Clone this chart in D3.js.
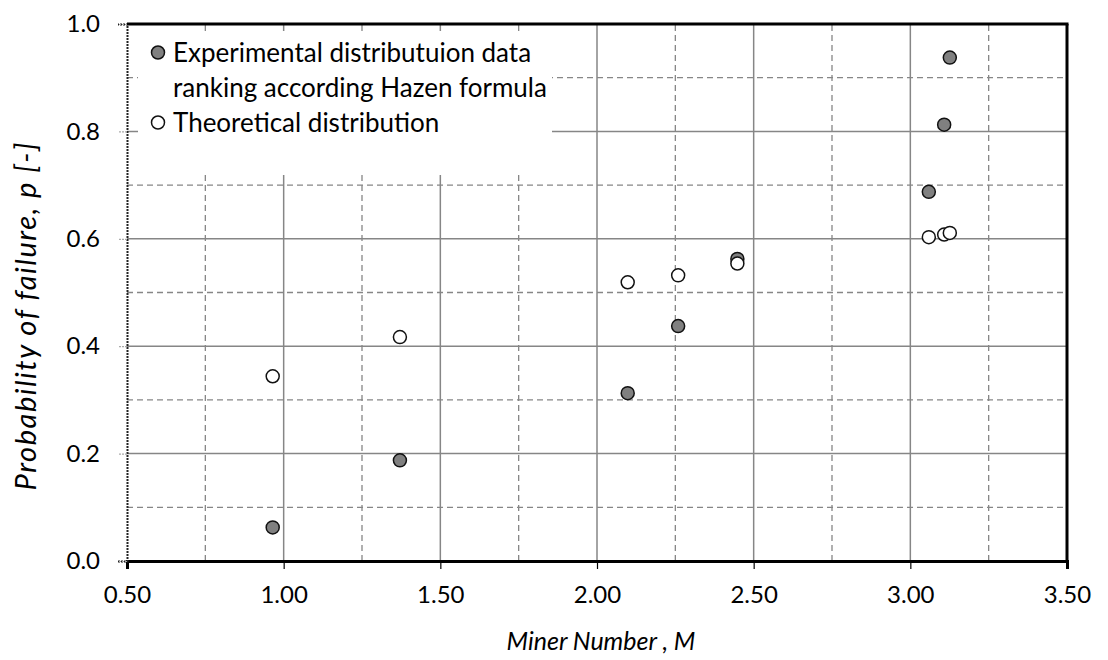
<!DOCTYPE html>
<html>
<head>
<meta charset="utf-8">
<script src="https://cdn.jsdelivr.net/npm/d3@7"></script>
<style>
  html, body { margin: 0; padding: 0; background: #fff; }
  svg text { font-family: Lato, "Open Sans", sans-serif; fill: #000; }
</style>
</head>
<body>
<svg id="chart" width="1108" height="660"></svg>
<script>
// Miner number of each specimen
const minerNumber = [0.965, 1.371, 2.098, 2.259, 2.448, 3.059, 3.108, 3.126];
// Probability of failure, ranked with the Hazen formula (i - 0.5) / n
const hazenProbability = [0.0625, 0.1875, 0.3125, 0.4375, 0.5625, 0.6875, 0.8125, 0.9375];
// Probability of failure from the fitted theoretical distribution
const theoreticalProbability = [0.344, 0.417, 0.519, 0.532, 0.554, 0.603, 0.608, 0.611];

const xTicks = [0.5, 1.0, 1.5, 2.0, 2.5, 3.0, 3.5];
const xMinorTicks = [0.75, 1.25, 1.75, 2.25, 2.75, 3.25];
const yTicks = [0.0, 0.2, 0.4, 0.6, 0.8, 1.0];
const yMinorTicks = [0.1, 0.3, 0.5, 0.7, 0.9];

const legendLabels = [
  ["Experimental distributuion data", "ranking according Hazen formula"],
  ["Theoretical distribution"]
];

const margin = { left: 127, right: 41, top: 24, bottom: 99 };
const W = 1108, H = 660;
const svg = d3.select("#chart");

const x = d3.scaleLinear().domain([0.5, 3.5]).range([margin.left, W - margin.right]);
const y = d3.scaleLinear().domain([0, 1]).range([H - margin.bottom, margin.top]);

const gridColor = "#868686";

// minor (dashed) grid
const grid = svg.append("g");
grid.selectAll("line.vminor").data(xMinorTicks).join("line")
  .attr("x1", d => x(d)).attr("x2", d => x(d))
  .attr("y1", y(0)).attr("y2", y(1))
  .attr("stroke", gridColor).attr("stroke-width", 1.3).attr("stroke-dasharray", "6,4");
grid.selectAll("line.hminor").data(yMinorTicks).join("line")
  .attr("x1", x(0.5)).attr("x2", x(3.5))
  .attr("y1", d => y(d)).attr("y2", d => y(d))
  .attr("stroke", gridColor).attr("stroke-width", 1.3).attr("stroke-dasharray", "6,4");
// major (solid) grid
grid.selectAll("line.vmajor").data(xTicks.slice(1, -1)).join("line")
  .attr("x1", d => x(d)).attr("x2", d => x(d))
  .attr("y1", y(0)).attr("y2", y(1))
  .attr("stroke", gridColor).attr("stroke-width", 1.5);
grid.selectAll("line.hmajor").data(yTicks.slice(1, -1)).join("line")
  .attr("x1", x(0.5)).attr("x2", x(3.5))
  .attr("y1", d => y(d)).attr("y2", d => y(d))
  .attr("stroke", gridColor).attr("stroke-width", 1.5);

// legend background covers the grid in the upper-left corner
svg.append("rect")
  .attr("x", 138).attr("y", 31).attr("width", 414).attr("height", 144)
  .attr("fill", "#fff");

// x axis
const xAxis = svg.append("g")
  .attr("transform", `translate(0,${y(0)})`)
  .call(d3.axisBottom(x).tickValues(xTicks).tickFormat(d3.format(".2f")).tickSize(8).tickPadding(17));
xAxis.select(".domain").attr("stroke", "#000").attr("stroke-width", 3);
xAxis.selectAll(".tick line").attr("stroke", "#000").attr("stroke-width", 1.2);
xAxis.selectAll(".tick text").attr("font-size", 24).attr("font-family", "Lato, sans-serif").attr("fill", "#000");

// y axis
const yAxis = svg.append("g")
  .attr("transform", `translate(${x(0.5)},0)`)
  .call(d3.axisLeft(y).tickValues(yTicks).tickFormat(d3.format(".1f")).tickSize(9).tickPadding(18));
yAxis.select(".domain").attr("stroke", "#222").attr("stroke-width", 2).attr("stroke-dasharray", "2,1");
yAxis.selectAll(".tick line").attr("stroke", "#aaa").attr("stroke-width", 1.2).attr("stroke-dasharray", "2,1");
yAxis.selectAll(".tick text").attr("font-size", 24).attr("font-family", "Lato, sans-serif").attr("fill", "#000");

// top and right frame
svg.append("line").attr("x1", x(0.5)).attr("x2", x(3.5) + 1.5).attr("y1", y(1)).attr("y2", y(1))
  .attr("stroke", "#000").attr("stroke-width", 3);
svg.append("line").attr("x1", x(3.5)).attr("x2", x(3.5)).attr("y1", y(1)).attr("y2", y(0))
  .attr("stroke", "#000").attr("stroke-width", 3);

// data points: experimental first, theoretical on top
const r = 6.5;
svg.append("g").selectAll("circle").data(minerNumber).join("circle")
  .attr("cx", d => x(d)).attr("cy", (d, i) => y(hazenProbability[i])).attr("r", r)
  .attr("fill", "#808080").attr("stroke", "#111").attr("stroke-width", 1.5);
svg.append("g").selectAll("circle").data(minerNumber).join("circle")
  .attr("cx", d => x(d)).attr("cy", (d, i) => y(theoreticalProbability[i])).attr("r", r)
  .attr("fill", "#fff").attr("stroke", "#111").attr("stroke-width", 1.5);

// legend
const legend = svg.append("g");
const legendFills = ["#808080", "#fff"];
const legendRows = [52.5, 122.5];
legendLabels.forEach((lines, k) => {
  legend.append("circle").attr("cx", 158).attr("cy", legendRows[k]).attr("r", 6.5)
    .attr("fill", legendFills[k]).attr("stroke", "#111").attr("stroke-width", 1.5);
  lines.forEach((t, j) => {
    legend.append("text").attr("x", 173).attr("y", legendRows[k] + j * 35)
      .attr("dy", "0.35em").attr("font-size", 26).text(t);
  });
});

// axis titles
svg.append("text")
  .attr("x", x(2.0) + 4).attr("y", 641).attr("dy", "0.35em")
  .attr("text-anchor", "middle").attr("font-size", 25).attr("font-style", "italic")
  .text("Miner Number , M");
svg.append("text")
  .attr("transform", `translate(26,${y(0.5) + 24}) rotate(-90)`)
  .attr("dy", "0.35em")
  .attr("text-anchor", "middle").attr("font-size", 29).attr("font-style", "italic")
  .attr("textLength", 348).attr("lengthAdjust", "spacing")
  .text("Probability of failure, p [-]");
</script>
</body>
</html>
